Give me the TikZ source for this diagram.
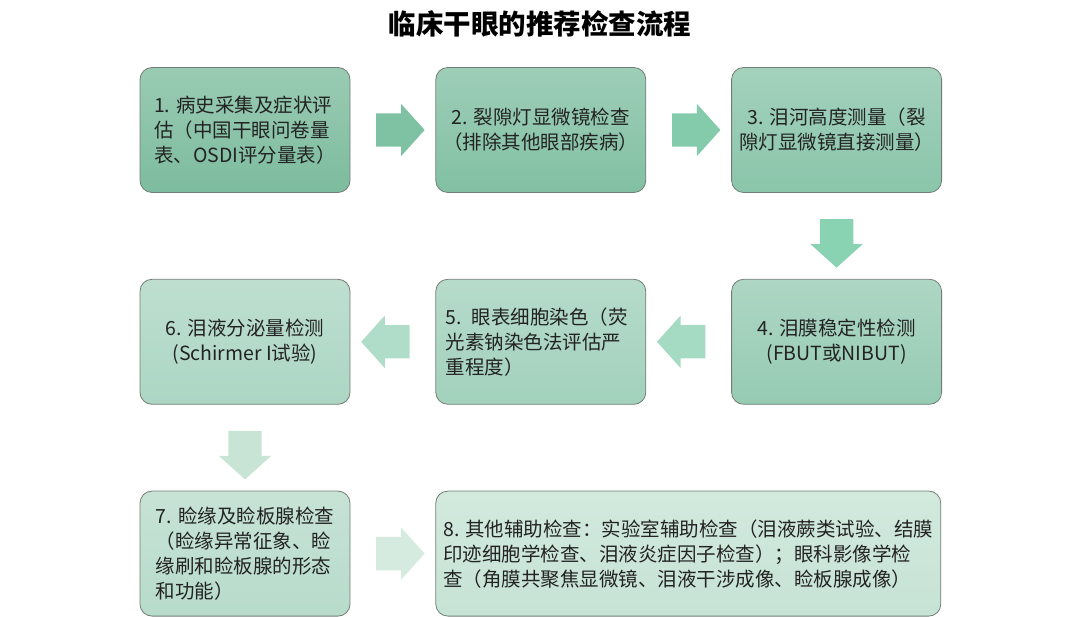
\documentclass[tikz,border=0pt]{standalone}
\usepackage{fontspec}
\setmainfont{Noto Sans CJK SC}
\usetikzlibrary{shapes.arrows, positioning, calc}
\definecolor{step1}{RGB}{125,188,158}
\definecolor{step2}{RGB}{130,192,163}
\definecolor{step3}{RGB}{138,197,170}
\definecolor{step4}{RGB}{150,203,179}
\definecolor{step5}{RGB}{162,209,188}
\definecolor{step6}{RGB}{172,214,195}
\definecolor{step7}{RGB}{183,219,202}
\definecolor{step8}{RGB}{198,227,213}
\definecolor{arr1}{RGB}{126,194,163}
\definecolor{arr2}{RGB}{132,203,172}
\definecolor{arr3}{RGB}{137,210,178}
\definecolor{arr4}{RGB}{165,218,195}
\definecolor{arr5}{RGB}{176,221,202}
\definecolor{arr6}{RGB}{200,228,213}
\definecolor{arr7}{RGB}{213,235,224}
\definecolor{border}{RGB}{115,125,120}
\definecolor{txt}{RGB}{35,35,35}

\begin{document}
\begin{tikzpicture}[
    x=1pt, y=-1pt,
    node distance=86pt and 85pt,
    box/.style={rectangle, draw=border, line width=0.8pt, rounded corners=12pt, minimum width=210pt, minimum height=125pt, inner sep=4pt, font=\fontsize{19.5}{25}\selectfont, text=txt},
    tint/.style={top color=#1!78!white, bottom color=#1},
    flow/.style={single arrow, draw=none, minimum height=45pt, single arrow head extend=9.5pt, single arrow tip angle=96, inner sep=16.5pt},
    title/.style={font=\fontsize{27.5}{30}\selectfont\bfseries, text=black}
]
\useasboundingbox (0,0) rectangle (1080,617);

% 标题
\node[title] (head) at (540,24) {临床干眼的推荐检查流程};

% 第一行
\node[box, tint=step1, align=left] (history) at (245,130) {1. 病史采集及症状评\\估（中国干眼问卷量\\表、OSDI评分量表）};
\node[box, tint=step2, align=center, right=of history] (slitlamp) {2. 裂隙灯显微镜检查\\（排除其他眼部疾病）};
\node[box, tint=step3, align=center, right=of slitlamp] (meniscus) {3. 泪河高度测量（裂\\隙灯显微镜直接测量）};

% 第二行
\node[box, tint=step4, align=center, below=of meniscus] (tbut) {4. 泪膜稳定性检测\\(FBUT或NIBUT)};
\node[box, tint=step5, align=left, text width=190pt, left=of tbut] (staining) {5. 眼表细胞染色（荧\\光素钠染色法评估严\\重程度）};
\node[box, tint=step6, align=center, left=of staining] (schirmer) {6. 泪液分泌量检测\\(Schirmer I试验)};

% 第三行
\node[box, tint=step7, align=left, below=of schirmer] (eyelid) {7. 睑缘及睑板腺检查\\（睑缘异常征象、睑\\缘刷和睑板腺的形态\\和功能）};
\node[box, tint=step8, align=left, minimum width=505pt, right=of eyelid] (auxiliary) {8. 其他辅助检查：实验室辅助检查（泪液蕨类试验、结膜\\印迹细胞学检查、泪液炎症因子检查）；眼科影像学检\\查（角膜共聚焦显微镜、泪液干涉成像、睑板腺成像）};

% 箭头
\node[flow, fill=arr1] (a12) at ($(history.east)!0.5!(slitlamp.west)$) {};
\node[flow, fill=arr2] (a23) at ($(slitlamp.east)!0.5!(meniscus.west)$) {};
\node[flow, fill=arr3, shape border rotate=270] (a34) at ($(meniscus.south)!0.5!(tbut.north)$) {};
\node[flow, fill=arr4, shape border rotate=180] (a45) at ($(tbut.west)!0.5!(staining.east)$) {};
\node[flow, fill=arr5, shape border rotate=180] (a56) at ($(staining.west)!0.5!(schirmer.east)$) {};
\node[flow, fill=arr6, shape border rotate=270] (a67) at ($(schirmer.south)!0.5!(eyelid.north)$) {};
\node[flow, fill=arr7] (a78) at ($(eyelid.east)!0.5!(auxiliary.west)$) {};

\end{tikzpicture}
\end{document}
